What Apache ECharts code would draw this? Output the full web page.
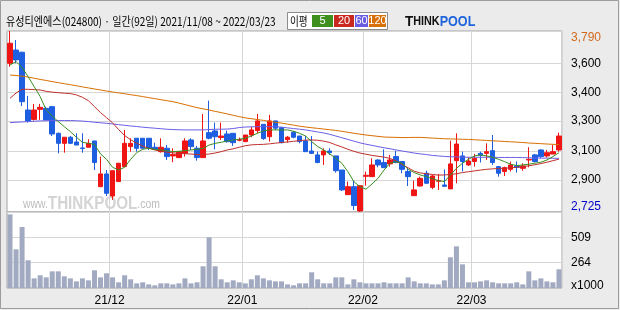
<!DOCTYPE html>
<html><head><meta charset="utf-8">
<script src="https://cdn.jsdelivr.net/npm/echarts@6/dist/echarts.min.js"></script>
<style>html,body{margin:0;padding:0;background:#ebebeb}#c{width:620px;height:310px}</style>
</head><body><div id="c"></div>
<script>
const dates = [
'2021/11/08','2021/11/09','2021/11/10','2021/11/11','2021/11/12','2021/11/15','2021/11/16','2021/11/17','2021/11/18','2021/11/19','2021/11/22','2021/11/23','2021/11/24','2021/11/25','2021/11/26','2021/11/29','2021/11/30',
'2021/12/01','2021/12/02','2021/12/03','2021/12/06','2021/12/07','2021/12/08','2021/12/09','2021/12/10','2021/12/13','2021/12/14','2021/12/15','2021/12/16','2021/12/17','2021/12/20','2021/12/21','2021/12/22','2021/12/23','2021/12/24','2021/12/27','2021/12/28','2021/12/29','2021/12/30',
'2022/01/03','2022/01/04','2022/01/05','2022/01/06','2022/01/07','2022/01/10','2022/01/11','2022/01/12','2022/01/13','2022/01/14','2022/01/17','2022/01/18','2022/01/19','2022/01/20','2022/01/21','2022/01/24','2022/01/25','2022/01/26','2022/01/27','2022/01/28',
'2022/02/03','2022/02/04','2022/02/07','2022/02/08','2022/02/09','2022/02/10','2022/02/11','2022/02/14','2022/02/15','2022/02/16','2022/02/17','2022/02/18','2022/02/21','2022/02/22','2022/02/23','2022/02/24','2022/02/25','2022/02/28',
'2022/03/02','2022/03/03','2022/03/04','2022/03/07','2022/03/08','2022/03/10','2022/03/11','2022/03/14','2022/03/15','2022/03/16','2022/03/17','2022/03/18','2022/03/21','2022/03/22','2022/03/23'];

const openP  = [3600,3678,3665,3325,3270,3329,3335,3345,3188,3129,3165,3137,3102,3106,3143,2874,2949,2819,2904,2992,3110,3159,3159,3159,3106,3080,3100,3055,3045,3070,3149,3100,3045,3192,3202,3163,3184,3188,3147,3139,3178,3204,3241,3168,3261,3221,3151,3194,3172,3143,3084,3061,3061,3084,3055,2972,2827,2874,2731,2935,2933,3031,3016,3008,3051,3022,2963,2821,2878,2953,2870,2906,2884,2861,3027,3055,3002,3022,3070,3070,3086,2992,2963,2976,2996,2982,3031,3061,3090,3055,3066,3090];
const closeP = [3718,3620,3374,3261,3325,3341,3267,3184,3129,3165,3129,3119,3098,3129,3016,2949,2835,2968,3012,3129,3129,3100,3100,3100,3094,3106,3051,3063,3080,3143,3110,3045,3143,3159,3168,3172,3139,3133,3151,3178,3208,3261,3157,3261,3218,3133,3165,3165,3139,3080,3070,3016,3084,3074,2968,2855,2874,2763,2880,2941,3002,3002,2986,3031,3016,2976,2933,2855,2923,2894,2937,2910,2876,3008,3125,3022,3025,3041,3059,3080,3016,2953,2986,3002,2988,2996,3035,3022,3051,3074,3080,3172];
const lowP   = [3580,3600,3349,3251,3263,3267,3267,3172,3070,3074,3125,3119,3074,3106,2972,2874,2819,2796,2904,2992,3080,3080,3100,3090,3090,3074,3031,3018,3045,3051,3090,3027,3045,3153,3094,3149,3133,3114,3141,3139,3165,3188,3149,3139,3208,3129,3133,3159,3129,3080,3066,3012,3002,3061,2957,2849,2827,2737,2725,2880,2933,2988,2986,2992,3012,2953,2878,2821,2874,2890,2859,2855,2874,2861,2894,2963,2996,2992,3016,3031,3002,2933,2937,2963,2957,2968,2988,3016,3041,3045,3066,3080];
const highP  = [3790,3737,3668,3408,3361,3361,3345,3349,3192,3165,3172,3188,3188,3153,3143,3051,2972,2968,3012,3208,3159,3159,3159,3159,3133,3159,3119,3100,3080,3159,3159,3114,3302,3380,3251,3251,3204,3188,3163,3178,3227,3302,3241,3296,3261,3227,3172,3202,3172,3172,3172,3080,3100,3100,3055,2972,2904,2910,2884,2963,3041,3035,3094,3061,3086,3025,2982,2910,2933,2968,2943,2949,2976,3145,3188,3080,3047,3067,3080,3129,3178,2996,2992,3022,3022,3012,3106,3067,3094,3090,3119,3192];
const volume = [731,393,609,287,112,142,122,180,180,132,112,83,112,93,190,122,161,122,74,142,103,64,74,54,45,64,64,54,64,112,64,74,229,509,229,103,74,93,74,64,103,142,112,93,83,83,54,45,64,64,171,103,64,64,122,122,54,103,74,64,64,64,74,64,64,64,122,83,64,64,54,54,93,316,422,248,74,74,83,93,74,64,64,64,74,54,180,93,112,83,74,200];
const ma5   = [3590,3610,3576,3521,3463,3404,3325,3290,3257,3227,3198,3165,3135,3129,3123,3067,3035,2988,2972,2988,3035,3074,3094,3100,3094,3090,3086,3080,3082,3086,3090,3094,3100,3119,3129,3135,3143,3149,3153,3159,3172,3188,3202,3208,3208,3208,3208,3200,3188,3172,3139,3110,3090,3067,3041,3012,2963,2904,2874,2859,2890,2923,2972,3012,3021,3012,2976,2957,2943,2933,2921,2910,2904,2943,2982,3012,3035,3055,3061,3055,3047,3035,3021,3006,2998,3002,3006,3012,3018,3031,3051,3074];
const ma20  = [3394,3425,3447,3447,3445,3443,3435,3430,3427,3424,3422,3414,3400,3380,3345,3310,3280,3250,3210,3175,3150,3130,3112,3100,3090,3083,3077,3073,3070,3068,3066,3063,3063,3066,3072,3080,3090,3097,3106,3115,3120,3122,3123,3126,3130,3134,3137,3141,3145,3148,3149,3147,3142,3134,3120,3108,3094,3082,3072,3065,3058,3053,3048,3040,3025,3005,2985,2965,2955,2950,2946,2942,2943,2946,2950,2957,2962,2967,2972,2976,2979,2981,2983,2985,2988,2992,2997,3003,3010,3018,3027,3036];
const ma60  = [3251,3253,3255,3257,3259,3261,3262,3263,3263,3263,3263,3262,3260,3257,3253,3250,3247,3243,3239,3235,3231,3228,3224,3221,3218,3215,3212,3210,3209,3208,3208,3208,3208,3210,3212,3212,3213,3216,3222,3225,3226,3227,3227,3227,3227,3224,3220,3216,3212,3208,3202,3196,3190,3182,3172,3162,3152,3142,3132,3124,3117,3110,3103,3097,3090,3084,3078,3072,3067,3063,3058,3055,3052,3050,3049,3048,3047,3047,3047,3047,3047,3046,3046,3046,3046,3045,3044,3043,3042,3042,3041,3041];
const ma120 = [3531,3528,3524,3519,3512,3505,3499,3492,3486,3480,3474,3468,3461,3455,3449,3443,3437,3431,3426,3421,3415,3410,3404,3398,3392,3386,3380,3374,3366,3357,3348,3339,3332,3325,3317,3310,3302,3294,3286,3279,3274,3269,3264,3258,3253,3248,3242,3236,3230,3225,3221,3217,3213,3209,3205,3200,3194,3188,3183,3178,3174,3170,3166,3165,3164,3163,3163,3164,3164,3162,3160,3158,3156,3155,3154,3153,3152,3150,3148,3146,3144,3142,3140,3138,3136,3134,3131,3129,3127,3125,3123,3122];

const priceTicks = [2725, 2913, 3084, 3260, 3429, 3598, 3790];
const priceTickLabels = ['2,725','2,900','3,100','3,300','3,400','3,600','3,790'];
const volTicks = [19, 264, 509];
const volTickLabels = ['x1000','264','509'];
const maNames = ['5','20','60','120'];
const maColors = ['#3a8d1f','#c0302b','#6b5ee6','#d86f00'];

const candles = dates.map((d, i) => [openP[i], closeP[i], lowP[i], highP[i]]);
const isMonthStart = (i) => i > 0 && dates[i].slice(5, 7) !== dates[i - 1].slice(5, 7);

const chart = echarts.init(document.getElementById('c'), null, {renderer: 'canvas'});
const gridLine = {show: true, lineStyle: {color: '#d6d6d6', width: 1}};

chart.setOption({
  animation: false,
  backgroundColor: '#ebebeb',
  grid: [
    {left: 7, top: 31, width: 555, height: 181, show: true, backgroundColor: '#fff', borderColor: '#a3a3a3', borderWidth: 1},
    {left: 7, top: 212, width: 555, height: 76, show: true, backgroundColor: '#fff', borderColor: '#a3a3a3', borderWidth: 1}
  ],
  xAxis: [
    {type: 'category', gridIndex: 0, data: dates, boundaryGap: true,
     axisLine: {show: false}, axisTick: {show: false}, axisLabel: {show: false},
     splitLine: Object.assign({interval: (i) => isMonthStart(i)}, gridLine)},
    {type: 'category', gridIndex: 1, data: dates, boundaryGap: true,
     axisLine: {show: false}, axisTick: {show: false},
     axisLabel: {interval: (i) => isMonthStart(i), formatter: (v) => v.slice(2, 4) + '/' + v.slice(5, 7),
                 fontFamily: 'Liberation Sans', fontSize: 12, color: '#000', margin: 7, padding: [0, 6, 0, 0]},
     splitLine: Object.assign({interval: (i) => isMonthStart(i)}, gridLine)}
  ],
  yAxis: [
    {type: 'value', gridIndex: 0, position: 'right', min: priceTicks[0], max: priceTicks[priceTicks.length - 1],
     axisLine: {show: false},
     axisTick: {show: false, customValues: priceTicks},
     splitLine: gridLine,
     axisLabel: {customValues: priceTicks, margin: 9, fontFamily: 'Liberation Sans', fontSize: 12, color: '#000',
       formatter: (v) => {
         const k = priceTicks.indexOf(v);
         const t = priceTickLabels[k];
         if (k === priceTicks.length - 1) return '{mx|' + t + '}';
         if (k === 0) return '{mn|' + t + '}';
         return t;
       },
       rich: {mx: {color: '#d2691e', fontFamily: 'Liberation Sans', fontSize: 12, padding: [14, 0, 0, 0]},
              mn: {color: '#0000cd', fontFamily: 'Liberation Sans', fontSize: 12, padding: [0, 0, 10, 0]}}}},
    {type: 'value', gridIndex: 1, position: 'right', min: volTicks[0], max: 754,
     axisLine: {show: false},
     axisTick: {show: false, customValues: volTicks.slice(1)},
     splitLine: gridLine,
     axisLabel: {customValues: volTicks, margin: 9, fontFamily: 'Liberation Sans', fontSize: 12, color: '#000',
       formatter: (v) => {
         const k = volTicks.indexOf(v);
         return k === 0 ? '{b|' + volTickLabels[0] + '}' : volTickLabels[k];
       },
       rich: {b: {fontFamily: 'Liberation Sans', fontSize: 12, color: '#000', padding: [0, 0, 4, 0]}}}}
  ],
  series: [
    {type: 'line', name: 'MA120', data: ma120, xAxisIndex: 0, yAxisIndex: 0, showSymbol: false, lineStyle: {color: maColors[3], width: 1}},
    {type: 'line', name: 'MA60', data: ma60, xAxisIndex: 0, yAxisIndex: 0, showSymbol: false, lineStyle: {color: maColors[2], width: 1}},
    {type: 'line', name: 'MA20', data: ma20, xAxisIndex: 0, yAxisIndex: 0, showSymbol: false, lineStyle: {color: maColors[1], width: 1}},
    {type: 'line', name: 'MA5', data: ma5, xAxisIndex: 0, yAxisIndex: 0, showSymbol: false, lineStyle: {color: maColors[0], width: 1}},
    {type: 'candlestick', name: 'price', data: candles, xAxisIndex: 0, yAxisIndex: 0, barWidth: 5,
     itemStyle: {color: '#ef1515', color0: '#1d5fe0', borderColor: '#ef1515', borderColor0: '#1d5fe0', borderWidth: 1}},
    {type: 'bar', name: 'volume', data: volume, xAxisIndex: 1, yAxisIndex: 1, barWidth: 5,
     itemStyle: {color: '#a2aac2'}}
  ],
  graphic: [
    {type: 'rect', silent: true, z: 100, shape: {x: 0.5, y: 0.5, width: 618, height: 308}, style: {fill: 'none', stroke: '#9c9c9c', lineWidth: 1}},
    {type: 'text', silent: true, x: 6, y: 21, scaleX: 0.84,
     style: {text: '유성티엔에스(024800) · 일간(92일) 2021/11/08 ~ 2022/03/23', font: '12px "Noto Sans CJK KR"', fill: '#000', verticalAlign: 'middle'}},
    {type: 'rect', silent: true, shape: {x: 287.5, y: 12.5, width: 100, height: 17}, style: {fill: '#fff', stroke: '#8c8c8c', lineWidth: 1}},
    {type: 'text', silent: true, x: 290, y: 21, scaleX: 0.8, style: {text: '이평', font: '12px "Noto Sans CJK KR"', fill: '#000', verticalAlign: 'middle'}},
    {type: 'rect', silent: true, shape: {x: 312, y: 15, width: 21, height: 12}, style: {fill: '#3f8f1f'}},
    {type: 'text', silent: true, x: 322.5, y: 21, style: {text: maNames[0], font: '11px "Liberation Sans"', fill: '#fff', align: 'center', verticalAlign: 'middle'}},
    {type: 'rect', silent: true, shape: {x: 334, y: 15, width: 20, height: 12}, style: {fill: '#c8281e'}},
    {type: 'text', silent: true, x: 344, y: 21, style: {text: maNames[1], font: '11px "Liberation Sans"', fill: '#fff', align: 'center', verticalAlign: 'middle'}},
    {type: 'rect', silent: true, shape: {x: 355, y: 15, width: 13, height: 12}, style: {fill: '#6a5ce0'}},
    {type: 'text', silent: true, x: 361.5, y: 21, style: {text: maNames[2], font: '11px "Liberation Sans"', fill: '#fff', align: 'center', verticalAlign: 'middle'}},
    {type: 'rect', silent: true, shape: {x: 369, y: 15, width: 17, height: 12}, style: {fill: '#d8700a'}},
    {type: 'text', silent: true, x: 377.5, y: 21, style: {text: maNames[3], font: '11px "Liberation Sans"', fill: '#fff', align: 'center', verticalAlign: 'middle'}},
    {type: 'text', silent: true, x: 405, y: 22, scaleX: 0.9,
     style: {text: '{t|T}{h|HINK}{p|POOL}', verticalAlign: 'middle',
       rich: {t: {font: 'bold 15px "Liberation Sans"', fill: '#111'}, h: {font: 'bold 12px "Liberation Sans"', fill: '#111'}, p: {font: 'bold 14px "Liberation Sans"', fill: '#1e64dc'}}}},
    {type: 'text', silent: true, z: 1, x: 23, y: 204, scaleX: 0.8,
     style: {text: '{a|www.}{b|THINKPOOL}{a|.com}', verticalAlign: 'middle',
       rich: {a: {font: '13px "Liberation Sans"', fill: '#bdbdbd'}, b: {font: 'bold 19px "Liberation Sans"', fill: '#d4d4d4'}}}}
  ]
});
</script></body></html>
